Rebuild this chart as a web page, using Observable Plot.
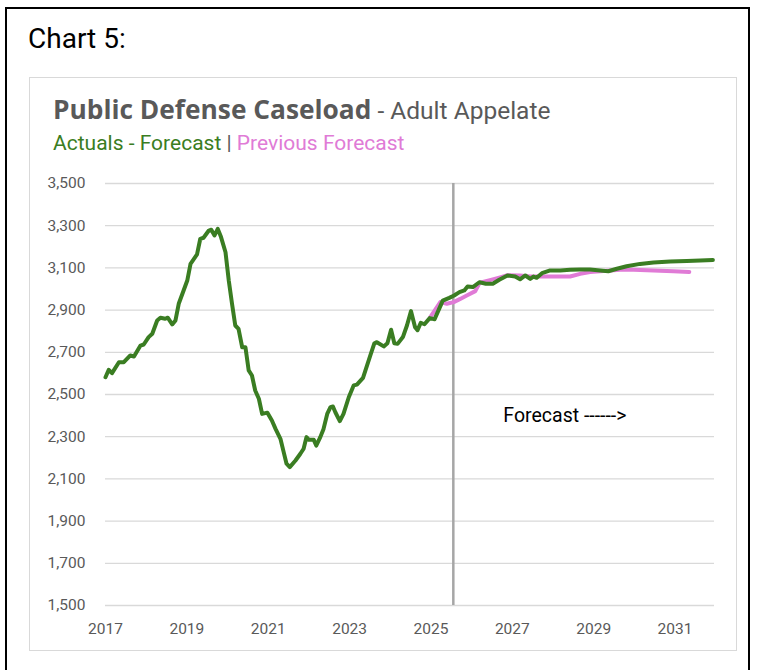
<!DOCTYPE html>
<html>
<head>
<meta charset="utf-8">
<script src="https://cdn.jsdelivr.net/npm/d3@7"></script>
<script src="https://cdn.jsdelivr.net/npm/@observablehq/plot@0.6"></script>
<style>
  html, body { margin: 0; padding: 0; background: #fff; }
  body { width: 757px; height: 670px; position: relative; overflow: hidden; font-family: "Roboto", sans-serif; }
  #outer { position: absolute; left: 5px; top: 7px; width: 745px; height: 700px; border: 2px solid #000; box-sizing: border-box; }
  #box { position: absolute; left: 29px; top: 77px; width: 708px; height: 574px; border: 1.5px solid #d9d9d9; box-sizing: border-box; }
  #header { position: absolute; left: 0; top: 0; }
  #chart { position: absolute; left: 29px; top: 160px; }
</style>
</head>
<body>
<div id="outer"></div>
<div id="box"></div>
<svg id="header" width="757" height="160"></svg>
<div id="chart"></div>
<script>
const actualYears = [2017.00,2017.08,2017.16,2017.33,2017.45,2017.61,2017.70,2017.86,2017.94,2018.06,2018.15,2018.27,2018.35,2018.47,2018.53,2018.64,2018.72,2018.80,2018.92,2019.01,2019.09,2019.25,2019.33,2019.41,2019.54,2019.60,2019.68,2019.76,2019.84,2019.95,2020.03,2020.11,2020.19,2020.27,2020.36,2020.44,2020.52,2020.60,2020.68,2020.77,2020.85,2020.98,2021.09,2021.18,2021.30,2021.38,2021.45,2021.53,2021.67,2021.79,2021.87,2021.94,2022.00,2022.12,2022.18,2022.28,2022.36,2022.45,2022.53,2022.59,2022.65,2022.76,2022.85,2022.98,2023.10,2023.18,2023.33,2023.39,2023.51,2023.61,2023.67,2023.84,2023.93,2024.02,2024.10,2024.18,2024.31,2024.41,2024.51,2024.61,2024.67,2024.75,2024.84,2024.97,2025.09,2025.29,2025.45,2025.57,2025.70,2025.82,2025.90,2026.03,2026.19,2026.35,2026.52,2026.68,2026.88,2027.07,2027.19,2027.32,2027.44,2027.52,2027.60,2027.73,2027.93,2028.18,2028.42,2028.67,2028.91,2029.16,2029.36,2029.57,2029.81,2030.14,2030.47,2030.88,2031.29,2031.62,2031.93];
const actualValues = [2582,2617,2601,2653,2653,2685,2680,2732,2737,2772,2788,2851,2864,2859,2864,2832,2851,2930,2993,3040,3119,3164,3238,3243,3277,3281,3254,3285,3246,3174,3040,2930,2827,2811,2724,2724,2614,2590,2519,2480,2408,2414,2377,2337,2290,2227,2172,2156,2187,2219,2243,2298,2285,2285,2258,2298,2337,2408,2440,2443,2416,2374,2408,2487,2543,2547,2579,2614,2685,2743,2748,2728,2743,2807,2743,2740,2772,2827,2895,2819,2805,2840,2833,2862,2857,2945,2958,2969,2985,2993,3012,3009,3032,3025,3025,3044,3064,3059,3046,3064,3048,3059,3053,3075,3088,3088,3091,3092,3092,3088,3084,3096,3108,3119,3126,3130,3133,3135,3138];
const prevYears = [2024.98,2025.23,2025.39,2025.56,2025.72,2025.88,2026.09,2026.20,2026.45,2026.70,2026.88,2027.19,2027.44,2027.69,2027.93,2028.18,2028.42,2028.67,2028.91,2029.16,2029.41,2029.65,2029.98,2030.31,2030.63,2030.96,2031.35];
const prevValues = [2866,2938,2930,2938,2953,2969,2990,3030,3042,3055,3065,3064,3059,3059,3059,3059,3059,3072,3080,3084,3088,3091,3091,3089,3086,3084,3081];
const forecastStart = [2025.55];
const yTicks = [1500,1700,1900,2100,2300,2500,2700,2900,3100,3300,3500];
const xTicks = [2017,2019,2021,2023,2025,2027,2029,2031];
const annotations = [{year: 2026.78, value: 2400, label: "Forecast ------>"}];

// header texts
const header = d3.select("#header");
header.append("text").attr("x", 28).attr("y", 48)
  .attr("font-family", "Roboto, sans-serif").attr("font-size", 28).attr("fill", "#000")
  .text("Chart 5:");
const title = header.append("text").attr("x", 53).attr("y", 118.5).attr("fill", "#595959");
title.append("tspan").attr("font-family", '"Open Sans", sans-serif').attr("font-weight", "bold").attr("font-size", 26.3).text("Public Defense Caseload");
title.append("tspan").attr("font-family", "Roboto, sans-serif").attr("font-size", 24.5).text(" - Adult Appelate");
const sub = header.append("text").attr("x", 53).attr("y", 149.5).attr("font-family", "Roboto, sans-serif").attr("font-size", 21);
sub.append("tspan").attr("fill", "#3a7d22").text("Actuals - Forecast");
sub.append("tspan").attr("fill", "#595959").text(" | ");
sub.append("tspan").attr("fill", "#e07bd6").text("Previous Forecast");

const actual = actualYears.map((y, i) => ({year: y, value: actualValues[i]}));
const prev = prevYears.map((y, i) => ({year: y, value: prevValues[i]}));

const chart = Plot.plot({
  width: 708,
  height: 485,
  marginLeft: 76,
  marginRight: 23,
  marginTop: 23,
  marginBottom: 40,
  style: {fontFamily: "Roboto, sans-serif", fontSize: "15.5px", color: "#595959", background: "transparent"},
  x: {domain: [2017, 2031.97], ticks: xTicks, tickFormat: d => String(d)},
  y: {domain: [1500, 3500], ticks: yTicks, tickFormat: d3.format(",")},
  marks: [
    Plot.gridY(yTicks, {stroke: "#d9d9d9", strokeOpacity: 1, strokeWidth: 1.3}),
    Plot.axisY({ticks: yTicks, tickSize: 0, tickPadding: 20, tickFormat: d3.format(","), label: null, fontSize: 15.5}),
    Plot.axisX({ticks: xTicks, tickSize: 0, tickPadding: 17, tickFormat: d => String(d), label: null, fontSize: 15.5}),
    Plot.ruleX(forecastStart, {stroke: "#a6a6a6", strokeWidth: 2.5}),
    Plot.line(prev, {x: "year", y: "value", stroke: "#e07bd6", strokeWidth: 4, curve: "linear"}),
    Plot.line(actual, {x: "year", y: "value", stroke: "#3a7d22", strokeWidth: 4, curve: "linear"}),
    Plot.text(annotations, {x: "year", y: "value", text: "label", textAnchor: "start", fill: "#000", fontSize: 19.5})
  ]
});
document.getElementById("chart").appendChild(chart);
</script>
</body>
</html>
